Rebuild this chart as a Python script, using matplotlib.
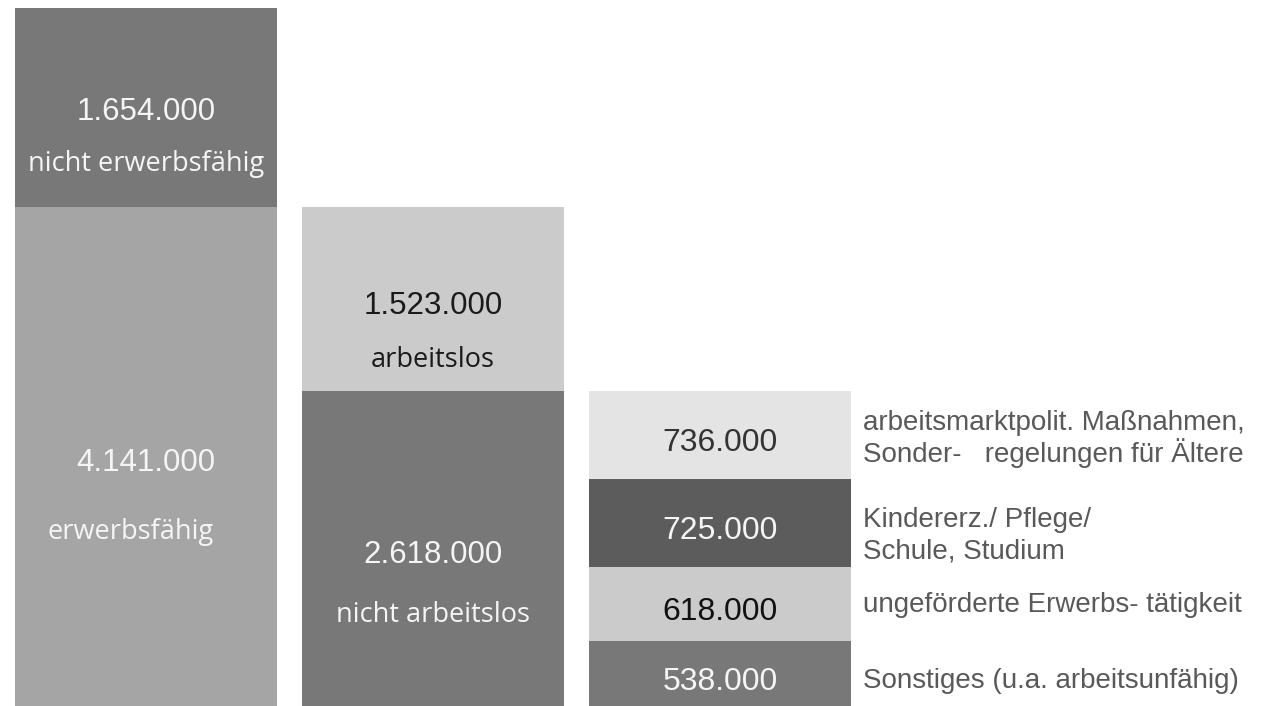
import matplotlib.pyplot as plt

# ── Daten (Tausend Personen) ─────────────────────────────
spalte1_werte  = [4141, 1654]
spalte1_zahlen = ["4.141.000", "1.654.000"]
spalte1_texte  = ["erwerbsfähig", "nicht erwerbsfähig"]

spalte2_werte  = [2618, 1523]
spalte2_zahlen = ["2.618.000", "1.523.000"]
spalte2_texte  = ["nicht arbeitslos", "arbeitslos"]

spalte3_werte  = [538, 618, 725, 736]
spalte3_zahlen = ["538.000", "618.000", "725.000", "736.000"]
spalte3_texte  = ["Sonstiges (u.a. arbeitsunfähig)",
                  "ungeförderte Erwerbs- tätigkeit",
                  "Kindererz./ Pflege/\nSchule, Studium",
                  "arbeitsmarktpolit. Maßnahmen,\nSonder-   regelungen für Ältere"]

# ── Stil ────────────────────────────────────────────────
ZAHL_FONT = ["Liberation Sans", "DejaVu Sans"]
WORT_FONT = ["Open Sans", "DejaVu Sans"]
RAND_FONT = ["Liberation Sans", "DejaVu Sans"]

farben1 = ["#a5a5a5", "#787878"]
farben2 = ["#787878", "#cbcbcb"]
farben3 = ["#787878", "#cbcbcb", "#5c5c5c", "#e4e4e4"]
zahlfarbe1 = ["#f5f5f5", "#f5f5f5"]
zahlfarbe2 = ["#f5f5f5", "#1a1a1a"]
zahlfarbe3 = ["#f5f5f5", "#111111", "#f5f5f5", "#333333"]
rand_dy = [-5, -1, -9, -3]          # vertikale Feinjustierung (pt) rechts
rand_zeilen = [1.0, 1.0, 1.3, 1.1]

fig = plt.figure(figsize=(12.63, 7.06), dpi=100)
ax = fig.add_axes([0, 0, 1, 1])
ax.set_xlim(0, 1263)
ax.set_ylim(0, 5860)
ax.axis("off")

breite = 262
x_pos = [146, 433, 720]


def saeule(x, werte, farben):
    unten = 0
    mitten = []
    for w, f in zip(werte, farben):
        ax.bar(x, w, bottom=unten, width=breite, color=f, linewidth=0)
        mitten.append(unten + w / 2)
        unten += w
    return mitten


m1 = saeule(x_pos[0], spalte1_werte, farben1)
m2 = saeule(x_pos[1], spalte2_werte, farben2)
m3 = saeule(x_pos[2], spalte3_werte, farben3)

# Spalte 1
ax.annotate(spalte1_zahlen[1], (x_pos[0], m1[1]), xytext=(0, -3), textcoords="offset points",
            ha="center", va="center", fontsize=22.5, color=zahlfarbe1[1], family=ZAHL_FONT)
ax.annotate(spalte1_texte[1], (x_pos[0], m1[1]), xytext=(0, -41), textcoords="offset points",
            ha="center", va="center", fontsize=19.5, color=zahlfarbe1[1], family=WORT_FONT)
ax.annotate(spalte1_zahlen[0], (x_pos[0], m1[0]), xytext=(0, -5), textcoords="offset points",
            ha="center", va="center", fontsize=22.5, color=zahlfarbe1[0], family=ZAHL_FONT)
ax.annotate(spalte1_texte[0], (x_pos[0] - 15, m1[0]), xytext=(0, -54), textcoords="offset points",
            ha="center", va="center", fontsize=19.5, color=zahlfarbe1[0], family=WORT_FONT)

# Spalte 2
for i, dy_zahl, dy_text in [(1, -5, -44), (0, -5, -48)]:
    ax.annotate(spalte2_zahlen[i], (x_pos[1], m2[i]), xytext=(0, dy_zahl), textcoords="offset points",
                ha="center", va="center", fontsize=22.5, color=zahlfarbe2[i], family=ZAHL_FONT)
    ax.annotate(spalte2_texte[i], (x_pos[1], m2[i]), xytext=(0, dy_text), textcoords="offset points",
                ha="center", va="center", fontsize=19.5, color=zahlfarbe2[i], family=WORT_FONT)

# Spalte 3 mit Beschriftung rechts
for i, (mitte, zahl, text) in enumerate(zip(m3, spalte3_zahlen, spalte3_texte)):
    ax.annotate(zahl, (x_pos[2], mitte), xytext=(0, -6), textcoords="offset points",
                ha="center", va="center", fontsize=23, color=zahlfarbe3[i], family=ZAHL_FONT)
    ax.annotate(text, (863, mitte), xytext=(0, rand_dy[i]), textcoords="offset points",
                ha="left", va="center", fontsize=20, color="#595959", family=RAND_FONT,
                linespacing=rand_zeilen[i])

fig.savefig("out.png", dpi=100)
